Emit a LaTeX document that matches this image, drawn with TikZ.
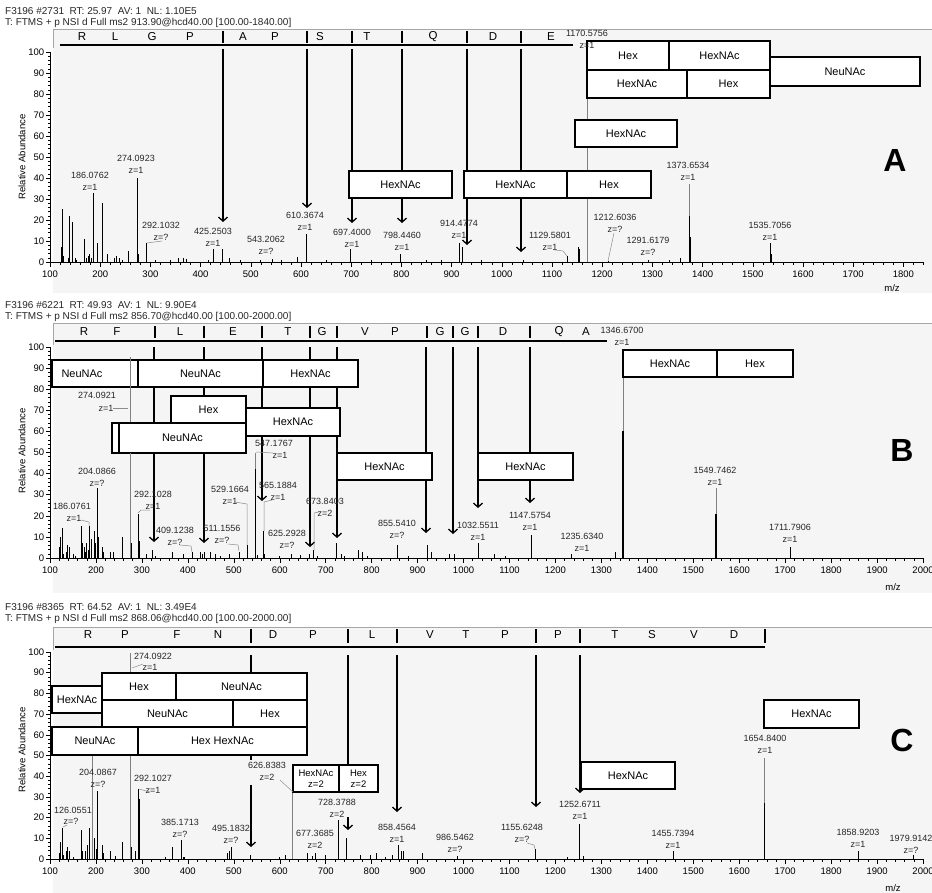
\documentclass[tikz,border=0pt]{standalone}
\usepackage{fontspec}
\setmainfont{Liberation Sans}
\usetikzlibrary{arrows.meta}

\tikzset{
    plot_bg/.style = {fill=black!4, draw=none},
    frame_line/.style = {draw=black!35, line width=0.6pt},
    axis_line/.style = {line width=0.8pt},
    tick_line/.style = {line width=0.5pt},
    peak_line/.style = {line width=0.7pt},
    thick_peak/.style = {line width=1.4pt},
    faint_peak/.style = {draw=black!50, line width=0.5pt},
    leader/.style = {draw=black!45, line width=0.5pt},
    seq_line/.style = {line width=1.3pt},
    seq_bar/.style = {line width=1.5pt},
    frag_line/.style = {line width=1.3pt},
    frag_arrow/.style = {line width=1.3pt, -{Straight Barb[length=4pt,width=9pt,line width=1.3pt]}},
    glyco_box/.style = {draw=black, fill=white, line width=1.2pt},
    box_text/.style = {font=\fontsize{11}{12}\selectfont, inner sep=0pt, align=center},
    box_small/.style = {font=\fontsize{9.5}{10.5}\selectfont, inner sep=0pt, align=center},
    pk_label/.style = {font=\fontsize{9}{10}\selectfont, inner sep=0pt, text=black!85},
    res_label/.style = {font=\fontsize{11.5}{12}\selectfont, inner sep=0pt},
    tick_label/.style = {font=\fontsize{9.5}{10}\selectfont, inner sep=1pt},
    head_text/.style = {font=\fontsize{10}{11}\selectfont, inner sep=0pt, anchor=west, text=black!85},
    ylab_text/.style = {font=\fontsize{9.5}{10}\selectfont, inner sep=0pt, rotate=90},
    panel_tag/.style = {font=\fontsize{32}{32}\selectfont\bfseries, inner sep=0pt}
}

% glycan box: name, x1, y1, x2, y2, text
\newcommand{\gbox}[6]{%
    \draw[glyco_box] (#2,#3) rectangle (#4,#5);
    \node[box_text] (#1) at ({(#2+#4)/2},{(#3+#5)/2}) {#6};}
% peak label: name, x, y, mass, charge
\newcommand{\plab}[5]{%
    \node[pk_label] (#1) at (#2,#3) {#4};
    \node[pk_label] (#1z) at (#2,#3+12) {#5};}
% axes of one spectrum (data coordinates)
\newcommand{\specaxes}[2]{%
    \draw[axis_line] (100,100) -- (100,0) -- (#1,0);
    \foreach \t in {120,140,...,#1} \draw[tick_line] (\t,0) -- ++(0,-3pt);
    \foreach \t in {100,200,...,#2} \draw[tick_line] (\t,0) -- ++(0,-5pt) node[below=2.5pt, tick_label] {\t};
    \foreach \v in {2,4,...,98} \draw[tick_line] (100,\v) -- ++(-2.5pt,0);
    \foreach \v in {0,10,...,100} \draw[tick_line] (100,\v) -- ++(-4.5pt,0) node[left, tick_label] {\v};}

\begin{document}
\begin{tikzpicture}[x=1pt, y=-1pt]
\useasboundingbox (0,0) rectangle (932,893);

% backgrounds
\fill[plot_bg] (53,29) rectangle (932,293);
\fill[plot_bg] (53,323) rectangle (932,593);
\fill[plot_bg] (53,627) rectangle (932,893);
\draw[frame_line] (53,48) -- (53,29) -- (932,29);
\draw[frame_line] (53,345) -- (53,323) -- (932,323);
\draw[frame_line] (53,650) -- (53,627) -- (932,627);

% headers
\node[head_text] (headA1) at (5,11) {F3196 \#2731~~RT: 25.97~~AV: 1~~NL: 1.10E5};
\node[head_text] (headA2) at (5,23) {T: FTMS + p NSI d Full ms2 913.90@hcd40.00 [100.00-1840.00]};
\node[head_text] (headB1) at (5,305) {F3196 \#6221~~RT: 49.93~~AV: 1~~NL: 9.90E4};
\node[head_text] (headB2) at (5,317) {T: FTMS + p NSI d Full ms2 856.70@hcd40.00 [100.00-2000.00]};
\node[head_text] (headC1) at (5,607) {F3196 \#8365~~RT: 64.52~~AV: 1~~NL: 3.49E4};
\node[head_text] (headC2) at (5,619) {T: FTMS + p NSI d Full ms2 868.06@hcd40.00 [100.00-2000.00]};

\node[ylab_text] (ylabA) at (22,157) {Relative Abundance};
\node[ylab_text] (ylabB) at (22,451) {Relative Abundance};
\node[ylab_text] (ylabC) at (22,750) {Relative Abundance};

% ---------- spectrum A ----------
\begin{scope}[shift={(-0.2pt,-262pt)}, x=0.502pt, y=2.1pt]
    \specaxes{1840}{1800}
    \foreach \m/\i in {122/7,124/12,125/25,127/3,136/2,138/22,139/11,144/19,150/2,152/1,
        168/11,169/6,172/2,176/3,179/4,182/2,186.08/33,187/16,195/9,204/28,205/14,215/4,
        228/2,233/3,238/2,245/1,256/5,274.09/40,276/4,292.1/9,310/1,340/1,356/2,366/2,
        371/1.5,415/1,425.25/6,444/6,457/2,480/1,520/1,543.2/1.5,560/1,593/2.5,610.37/13.5,
        650/1,697.4/6,740/1,798.45/4,850/1,880/1,914.48/9,916/6,921/7,960/1,1042/1,
        1129.58/3,1152/7,1154/6,1212.6/0.5,1291.6/1,1333/1,1356/2,1376/12,1535.7/9,1537/4}
        \draw[peak_line] (\m,0) -- (\m,\i);
    \draw[faint_peak] (1170.58,0) -- (1170.58,100);
    \draw[faint_peak] (1373.65,0) -- (1373.65,37);
    \draw[thick_peak] (1373.65,0) -- (1373.65,22);
\end{scope}
\node[tick_label] (mzA) at (892,288) {m/z};

\foreach \x/\r in {82/R,115/L,152/G,190/P,243/A,275/P,320/S,367/T,433/Q,493/D,551/E}
    \node[res_label] (aseq\x) at (\x,37) {\r};
\foreach \x in {223,307,352,402,467,521} \draw[seq_bar] (\x,31) -- (\x,43);
\draw[seq_line] (60,45) -- (573,45);

\draw[frag_arrow] (223,49) -- (223,222);
\draw[frag_arrow] (307,49) -- (307,208);
\draw[frag_arrow] (352,49) -- (352,223);
\draw[frag_arrow] (402,49) -- (402,223);
\draw[frag_arrow] (467,49) -- (467,245);
\draw[frag_arrow] (521,49) -- (521,252);

\gbox{aHexT}{587}{41}{669}{70}{Hex}
\gbox{aHexNAcT}{669}{41}{770}{70}{HexNAc}
\gbox{aNeuNAc}{770}{57}{920}{86}{NeuNAc}
\gbox{aHexNAcM}{587}{70}{687}{98}{HexNAc}
\gbox{aHexM}{687}{70}{770}{98}{Hex}
\gbox{aHexNAcL}{575}{120}{677}{147}{HexNAc}
\gbox{aHexNAcP}{349}{171}{452}{198}{HexNAc}
\gbox{aHexNAcQ}{464}{171}{567}{198}{HexNAc}
\gbox{aHexQ}{567}{171}{651}{198}{Hex}

\plab{a1170}{587}{33}{1170.5756}{z=1}
\plab{a186}{90}{175}{186.0762}{z=1}
\plab{a274}{136}{158}{274.0923}{z=1}
\plab{a292}{161}{225}{292.1032}{z=?}
\plab{a425}{213}{231}{425.2503}{z=1}
\plab{a543}{266}{239}{543.2062}{z=?}
\plab{a610}{305}{215}{610.3674}{z=1}
\plab{a697}{352}{232}{697.4000}{z=1}
\plab{a798}{402}{235}{798.4460}{z=1}
\plab{a914}{459}{223}{914.4774}{z=1}
\plab{a1129}{550}{235}{1129.5801}{z=1}
\plab{a1212}{615}{217}{1212.6036}{z=?}
\plab{a1291}{648}{240}{1291.6179}{z=?}
\plab{a1373}{688}{165}{1373.6534}{z=1}
\plab{a1535}{770}{225}{1535.7056}{z=1}
\draw[leader] (147,243) -- (162,241);
\draw[leader] (555,250) -- (563,251) -- (567,256);
\draw[leader] (614,233) -- (608,261);
\node[panel_tag] (tagA) at (895,160) {A};

% ---------- spectrum B ----------
\begin{scope}[shift={(4.05pt,-558pt)}, x=0.4595pt, y=2.11pt]
    \specaxes{2000}{2000}
    \foreach \m/\i in {120/5,122/10,126/14,130/2,136/3,138/6,143/5,150/2,155/1,168/15,
        170/7,175/5,177/3,180/7,183/4,186.08/15,190/9,197/13,199/7,204.09/33,206/10,215/5,
        217/3,232/3,238/3,258/10,276/7,292.1/21,294/8,310/2,322/4,330/1,366/3,390/2,
        409.12/3,428/3,432/2,436/3,450/3,460/2,470/1,490/2,511.16/3,529.17/6,551/1.5,
        565.19/13,567/2,600/1,625.29/2,645/1.5,665/2,673.84/4,681/1,724/7,735/2,740/1,
        770/4,780/3,790/1,855.54/6,857/3,880/1,921/6,930/3,970/2,980/2,1032.55/7,1068/2,
        1090/1,1147.58/11,1235.63/2,1330/3,1551/6,1711.79/5}
        \draw[peak_line] (\m,0) -- (\m,\i);
    \draw[faint_peak] (547.18,0) -- (547.18,50);
    \draw[thick_peak] (547.18,0) -- (547.18,42);
    \draw[faint_peak] (1346.67,0) -- (1346.67,98.5);
    \draw[thick_peak] (1346.67,0) -- (1346.67,60);
    \draw[faint_peak] (1549.75,0) -- (1549.75,33);
    \draw[thick_peak] (1549.75,0) -- (1549.75,21);
\end{scope}
\node[tick_label] (mzB) at (893,587) {m/z};

\foreach \x/\r in {84/R,117/F,180/L,233/E,288/T,322/G,365/V,395/P,440/G,465/G,503/D,559/Q,586/A}
    \node[res_label] (bseq\x) at (\x,332) {\r};
\foreach \x in {155,204,262,310,337,427,453,478,530} \draw[seq_bar] (\x,326) -- (\x,338);
\draw[seq_line] (55,341) -- (607,341);

\draw[frag_arrow] (154,347) -- (154,542);
\draw[frag_arrow] (204,347) -- (204,543);
\draw[frag_arrow] (262,347) -- (262,501);
\draw[frag_arrow] (310,347) -- (310,547);
\draw[frag_arrow] (337,347) -- (337,538);
\draw[frag_arrow] (426,347) -- (426,533);
\draw[frag_arrow] (453,347) -- (453,534);
\draw[frag_arrow] (478,347) -- (478,508);
\draw[frag_arrow] (530,347) -- (530,503);

\draw[glyco_box] (52,360) rectangle (138,387);
\node[box_text] (bNeuA) at (82,373.5) {NeuNAc};
\gbox{bNeuB}{138}{360}{263}{387}{NeuNAc}
\gbox{bHexNAcA}{263}{360}{358}{387}{HexNAc}
\draw[faint_peak] (130,357) -- (130,423);
\gbox{bHexA}{171}{396}{246}{423}{Hex}
\gbox{bHexNAcB}{246}{408}{340}{436}{HexNAc}
\draw[glyco_box] (112,423) rectangle (246,453);
\gbox{bNeuC}{119}{423}{246}{453}{NeuNAc}
\draw[faint_peak] (130,453) -- (130,558);
\gbox{bHexNAcC}{337}{453}{432}{480}{HexNAc}
\gbox{bHexNAcD}{478}{453}{573}{480}{HexNAc}
\gbox{bHexNAcE}{623}{350}{717}{377}{HexNAc}
\gbox{bHexB}{717}{350}{793}{377}{Hex}

\node[pk_label] (b274) at (97,395) {274.0921};
\node[pk_label] (b274z) at (106,408) {z=1};
\plab{b1346}{622}{330}{1346.6700}{z=1}
\plab{b204}{97}{471}{204.0866}{z=?}
\node[pk_label] (b186) at (72,506) {186.0761};
\node[pk_label] (b186z) at (74,518) {z=1};
\plab{b292}{153}{494}{292.1028}{z=1}
\plab{b409}{175}{530}{409.1238}{z=?}
\plab{b511}{222}{528}{511.1556}{z=?}
\plab{b529}{230}{489}{529.1664}{z=1}
\node[pk_label] (b547) at (274,443) {547.1767};
\node[pk_label] (b547z) at (280,455) {z=1};
\plab{b565}{278}{485}{565.1884}{z=1}
\plab{b625}{287}{533}{625.2928}{z=?}
\plab{b673}{325}{501}{673.8403}{z=2}
\plab{b855}{397}{523}{855.5410}{z=?}
\plab{b1032}{478}{525}{1032.5511}{z=1}
\plab{b1147}{530}{515}{1147.5754}{z=1}
\plab{b1235}{582}{536}{1235.6340}{z=1}
\plab{b1549}{715}{470}{1549.7462}{z=1}
\plab{b1711}{790}{527}{1711.7906}{z=1}
\draw[leader] (113,408) -- (128,408);
\draw[leader] (81,520) -- (89,522) -- (89,526);
\draw[leader] (138,513) -- (141,510) -- (150,510);
\draw[leader] (180,545) -- (191,546) -- (192,552);
\draw[leader] (228,544) -- (238,545) -- (239,551);
\draw[leader] (235,502) -- (247,504) -- (247,545);
\draw[leader] (273,453) -- (256,452);
\draw[leader] (272,500) -- (264,502) -- (264,531);
\draw[leader] (319,512) -- (314,513) -- (314,550);
\node[panel_tag] (tagB) at (902,450) {B};

% ---------- spectrum C ----------
\begin{scope}[shift={(4.05pt,-859pt)}, x=0.4595pt, y=2.07pt]
    \specaxes{2000}{2000}
    \foreach \m/\i in {120/3,122/8,126.06/15,130/2,136/4,138/6,143/4,150/1,168/14,170/4,
        178/4,182/7,186/15,197/10,200/5,204.09/33,215/7,217/3,232/4,243/1.5,258/8,276/6,
        285/4,292.1/34,294/29,350/1,366/6,385.17/9,390/1,392/1,485/3,490/4,495.18/6,536/2,
        600/1,612/2,660/3,672/1.5,677.37/3,700/2,728.38/19,746/10,776/2,797/2,810/3,830/1,
        846/2,858.46/7,865/4,868/4,911/3,986.55/1.5,1155.62/5,1225/1,1252.67/17,1260/1.5,
        1455.74/4,1858.92/4,1979.91/2}
        \draw[peak_line] (\m,0) -- (\m,\i);
    \draw[faint_peak] (191,0) -- (191,50);
    \draw[faint_peak] (274.09,0) -- (274.09,99.5);
    \draw[faint_peak] (626.84,0) -- (626.84,45);
    \draw[faint_peak] (1654.84,0) -- (1654.84,49);
    \draw[thick_peak] (1654.84,0) -- (1654.84,27);
\end{scope}
\node[tick_label] (mzC) at (893,888) {m/z};

\foreach \x/\r in {88/R,125/P,177/F,218/N,273/D,313/P,372/L,430/V,466/T,505/P,558/P,615/T,652/S,694/V,734/D}
    \node[res_label] (cseq\x) at (\x,635) {\r};
\foreach \x in {251,348,397,536,580,765} \draw[seq_bar] (\x,629) -- (\x,643);
\draw[seq_line] (55,647) -- (765,647);

\draw[frag_line] (251,655) -- (251,760);
\draw[frag_arrow] (251,785) -- (251,847);
\draw[frag_line] (348,655) -- (348,765);
\draw[frag_arrow] (348,817) -- (348,830);
\draw[frag_arrow] (397,655) -- (397,812);
\draw[frag_arrow] (536,655) -- (536,807);
\draw[frag_arrow] (580,655) -- (580,793);

\gbox{cHexA}{102}{673}{176}{700}{Hex}
\gbox{cNeuA}{176}{673}{307}{700}{NeuNAc}
\gbox{cHexNAcA}{52}{686}{102}{713}{HexNAc}
\gbox{cNeuB}{102}{700}{233}{727}{NeuNAc}
\gbox{cHexB}{233}{700}{307}{727}{Hex}
\gbox{cNeuC}{52}{727}{138}{755}{NeuNAc}
\gbox{cHexHexNAc}{138}{727}{307}{755}{Hex HexNAc}
\draw[glyco_box] (293,765) rectangle (339,792);
\node[box_small] (cHexNAcZ) at (316,778.5) {HexNAc\\z=2};
\draw[glyco_box] (339,765) rectangle (378,792);
\node[box_small] (cHexZ) at (358.5,778.5) {Hex\\z=2};
\gbox{cHexNAcB}{581}{762}{675}{789}{HexNAc}
\gbox{cHexNAcC}{764}{700}{859}{728}{HexNAc}

\node[pk_label] (c274) at (153,656) {274.0922};
\node[pk_label] (c274z) at (150,667) {z=1};
\plab{c204}{98}{772}{204.0867}{z=?}
\plab{c292}{153}{778}{292.1027}{z=1}
\node[pk_label] (c126) at (73,810) {126.0551};
\node[pk_label] (c126z) at (71,821) {z=?};
\plab{c385}{180}{822}{385.1713}{z=?}
\plab{c495}{231}{828}{495.1832}{z=?}
\plab{c626}{267}{765}{626.8383}{z=2}
\plab{c728}{337}{802}{728.3788}{z=2}
\plab{c677}{315}{833}{677.3685}{z=2}
\plab{c858}{397}{827}{858.4564}{z=1}
\plab{c986}{455}{837}{986.5462}{z=?}
\plab{c1155}{522}{827}{1155.6248}{z=?}
\plab{c1252}{580}{804}{1252.6711}{z=1}
\plab{c1455}{673}{833}{1455.7394}{z=1}
\plab{c1654}{765}{738}{1654.8400}{z=1}
\plab{c1858}{858}{832}{1858.9203}{z=1}
\plab{c1979}{911}{838}{1979.9142}{z=?}
\draw[leader] (132,668) -- (143,664);
\draw[leader] (150,792) -- (139,789);
\draw[leader] (67,825) -- (63,827);
\draw[leader] (280,780) -- (293,792);
\draw[leader] (527,843) -- (534,845) -- (535,849);
\node[panel_tag] (tagC) at (902,740) {C};

\end{tikzpicture}
\end{document}
